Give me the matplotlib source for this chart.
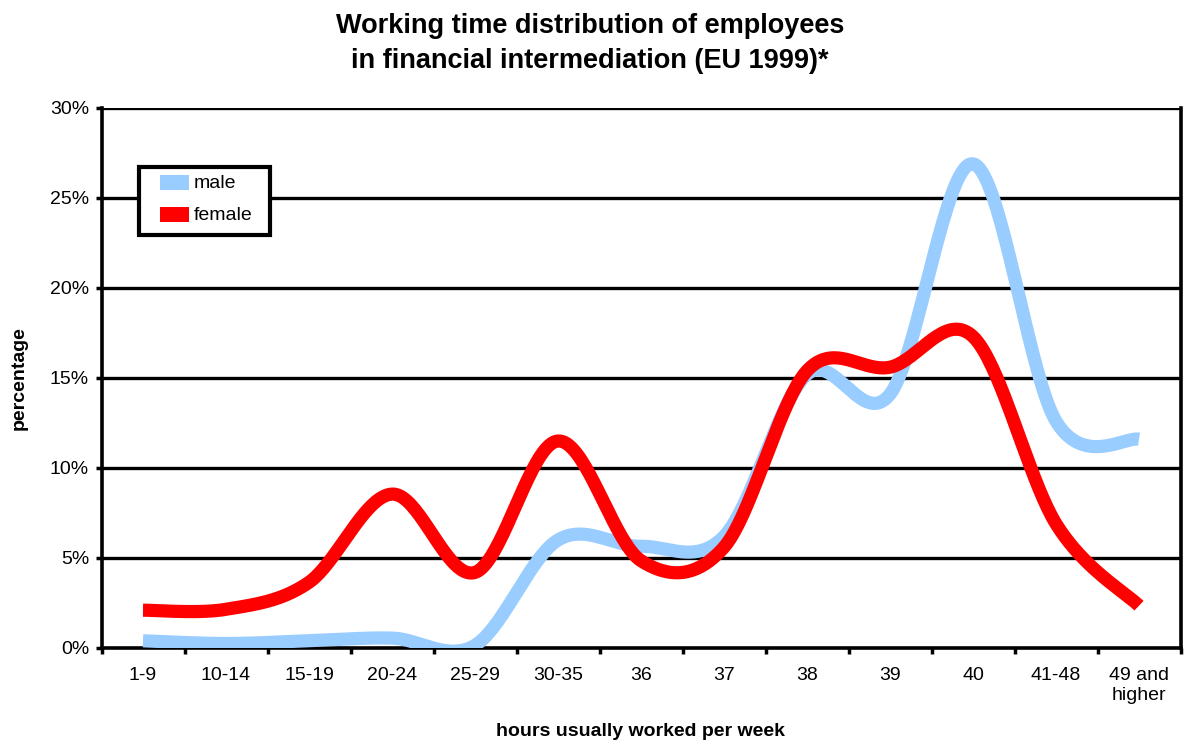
import numpy as np
import matplotlib
matplotlib.use("Agg")
import matplotlib.pyplot as plt
from matplotlib.patches import Rectangle
from matplotlib.ticker import FuncFormatter, FixedLocator

plt.rcParams['font.family'] = ['Liberation Sans', 'DejaVu Sans']

categories = ["1-9", "10-14", "15-19", "20-24", "25-29", "30-35", "36",
              "37", "38", "39", "40", "41-48", "49 and\nhigher"]
male = [0.4, 0.25, 0.4, 0.55, 0.15, 6.0, 5.65, 6.2, 15.2, 14.1, 26.9, 12.6, 11.6]
female = [2.1, 2.15, 3.65, 8.55, 4.2, 11.5, 4.85, 5.6, 15.4, 15.6, 17.3, 6.9, 2.35]

male_color = "#99CCFF"
female_color = "#FF0000"


def smooth(xs, ys, n=40):
    """Bezier smoothing through every point (Catmull-Rom style control points)."""
    p = np.column_stack([xs, ys]).astype(float)
    ext = np.vstack([p[0], p, p[-1]])
    out = []
    t = np.linspace(0, 1, n)[:, None]
    for i in range(len(p) - 1):
        p0, p1, p2, p3 = ext[i], ext[i + 1], ext[i + 2], ext[i + 3]
        c1 = p1 + (p2 - p0) / 6.0
        c2 = p2 - (p3 - p1) / 6.0
        seg = ((1 - t) ** 3) * p1 + 3 * ((1 - t) ** 2) * t * c1 \
            + 3 * (1 - t) * t ** 2 * c2 + t ** 3 * p2
        out.append(seg if i == 0 else seg[1:])
    s = np.vstack(out)
    return s[:, 0], s[:, 1]


W, H = 1184, 746
fig = plt.figure(figsize=(W / 100, H / 100), dpi=100)
ax = fig.add_axes([101.5 / W, 1 - 648 / H, 1079 / W, 540 / H])


def fx(px):
    return px / W


def fy(py):
    return 1 - py / H


x = np.arange(len(categories))
series = [(male, male_color, "male"), (female, female_color, "female")]
for vals, col, lab in series:
    sx, sy = smooth(x, vals)
    ax.plot(sx, sy, color=col, lw=9.5, solid_capstyle="butt",
            solid_joinstyle="round", zorder=3, label=lab)

ax.set_xlim(-0.5, len(categories) - 0.5)
ax.set_ylim(0, 30)

# horizontal gridlines
ax.set_yticks(np.arange(0, 31, 5))
ax.yaxis.set_major_formatter(FuncFormatter(lambda v, _: f"{int(v)}%"))
for v in range(5, 31, 5):
    ax.axhline(v, color="black", lw=2.4, zorder=1)

# x ticks at category boundaries, labels at centres
ax.xaxis.set_major_locator(FixedLocator(np.arange(-0.5, len(categories), 1.0)))
ax.xaxis.set_minor_locator(FixedLocator(x))
ax.set_xticklabels([])
ax.set_xticklabels(categories, minor=True)
ax.tick_params(axis="x", which="major", length=4, width=2.5, direction="out",
               color="black")
ax.tick_params(axis="x", which="minor", length=0, pad=14, labelsize=14)
ax.tick_params(axis="y", which="major", length=4, width=2.5, direction="out",
               pad=5, labelsize=14)

for sp in ax.spines.values():
    sp.set_linewidth(2.6)
    sp.set_color("black")
ax.spines["top"].set_visible(False)

fig.text(fx(590), fy(26), "Working time distribution of employees",
         ha="center", va="center", fontsize=19.5, fontweight="bold")
fig.text(fx(590), fy(61), "in financial intermediation (EU 1999)*",
         ha="center", va="center", fontsize=19.5, fontweight="bold")
fig.text(fx(19), fy(378), "percentage", rotation=90, ha="center",
         va="center", fontsize=14, fontweight="bold")
fig.text(fx(640), fy(731), "hours usually worked per week",
         ha="center", va="center", fontsize=14, fontweight="bold")

# legend box with colour keys
frame = Rectangle((fx(138.5), fy(234.5)), (271 - 140) / W, (234.5 - 166.5) / H,
                  transform=fig.transFigure, facecolor="white",
                  edgecolor="black", lw=3, zorder=5)
fig.add_artist(frame)
for i, (vals, col, lab) in enumerate(series):
    top = 175 + 32 * i
    fig.add_artist(Rectangle((fx(160), fy(top + 15)), 29 / W, 15 / H,
                             transform=fig.transFigure, facecolor=col,
                             edgecolor="none", zorder=6))
    fig.text(fx(194), fy(top + 8), lab, ha="left", va="center",
             fontsize=14, zorder=7)

fig.savefig("out.png", dpi=100)
